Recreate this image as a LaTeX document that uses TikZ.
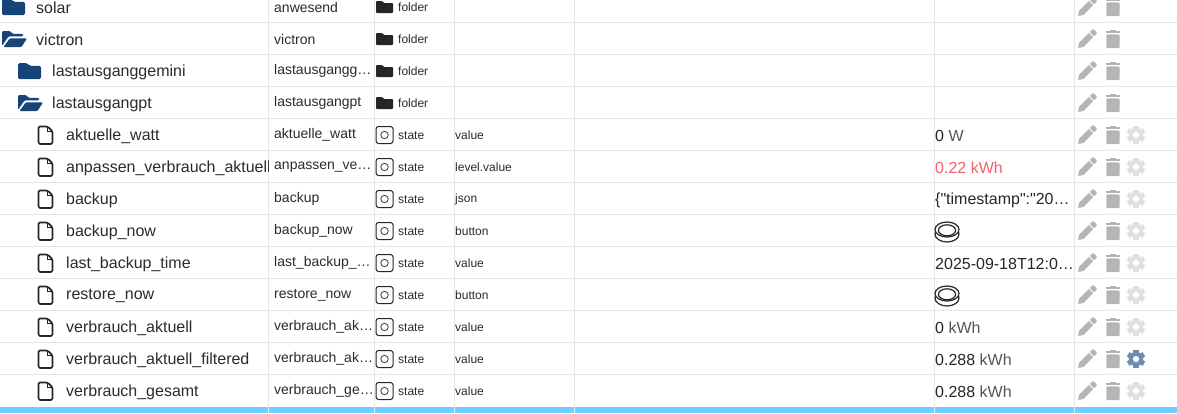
\documentclass[tikz,border=0pt]{standalone}
\usepackage{fontspec}
\setmainfont[Ligatures=TeXOff]{Liberation Sans}
\definecolor{rowline}{HTML}{E6E6E6}
\definecolor{namecol}{HTML}{2B2B2B}
\definecolor{foldercol}{HTML}{164477}
\definecolor{actioncol}{HTML}{B5B5B5}
\definecolor{gearoff}{HTML}{E0E0E0}
\definecolor{gearon}{HTML}{6C8EB4}
\definecolor{unitcol}{HTML}{555555}
\definecolor{redcol}{HTML}{F0616D}
\definecolor{barcol}{HTML}{6DCFFF}
\tikzset{
  cellname/.style={anchor=west,inner sep=0pt,text=namecol,font=\fontsize{16}{16}\selectfont},
  cellid/.style={anchor=west,inner sep=0pt,text=namecol,font=\fontsize{14}{14}\selectfont},
  cellsmall/.style={anchor=west,inner sep=0pt,text=namecol,font=\fontsize{12}{12}\selectfont},
  cellval/.style={anchor=west,inner sep=0pt,text=black!85,font=\fontsize{16}{16}\selectfont},
  foldershut/.pic={\fill[foldercol,rounded corners=1.5] (0,8) -- (0,-8) -- (9,-8) -- (11.5,-5.2) -- (23,-5.2) -- (23,8) -- cycle;},
  folderopen/.pic={\fill[foldercol,rounded corners=1] (0,7) -- (0,-8) -- (8,-8) -- (10.5,-5.2) -- (21,-5.2) -- (21,-2.6) -- (6.5,-2.6) -- cycle;
    \fill[foldercol,rounded corners=1] (1.5,8) -- (7.8,-.6) -- (25,-.6) -- (19.5,8) -- cycle;},
  filepage/.pic={\draw[black!85,line width=1.7,rounded corners=1.5,line join=round] (0,-8.6) -- (9,-8.6) -- (14,-3.6) -- (14,9) -- (0,9) -- cycle;
    \draw[black!85,line width=1.3] (9,-8.6) -- (9,-3.6) -- (14,-3.6);},
  statebox/.pic={\draw[black!85,line width=1,rounded corners=2.5] (-8.5,-8.5) rectangle (8.5,8.5);
    \draw[black!70,line width=.9] (0,0) circle (3.7);},
  pushbutton/.pic={\draw[black!85,line width=1.2,fill=white] (0,2.5) ellipse (12 and 8);
    \draw[black!85,line width=1.2,fill=white] (0,-2) ellipse (12 and 7.5);
    \draw[black!85,line width=1.2,fill=white] (0,-1.2) ellipse (8.6 and 5.5);},
  editpen/.pic={\begin{scope}[rotate=45]
      \fill[actioncol] (-12.5,0) -- (-8.5,-3) -- (5.6,-3) -- (5.6,3) -- (-8.5,3) -- cycle;
      \fill[actioncol,rounded corners=.8] (6.8,-3) rectangle (11.5,3);
    \end{scope}},
  trashcan/.pic={\fill[actioncol] (-7.3,-7.6) rectangle (7.3,-6);
    \fill[actioncol] (-3,-9) rectangle (3,-7.6);
    \fill[actioncol,rounded corners=1] (-6.6,-4.6) rectangle (6.6,9);},
  gearwheel/.pic={\foreach \ang in {0,60,...,300}
      {\fill[rotate=\ang] (-2.6,-9.2) rectangle (2.6,0);}
    \fill (0,0) circle (7.2);
    \fill[white] (0,0) circle (3.1);}
}
\begin{document}
\begin{tikzpicture}[x=1pt,y=-1pt]
\useasboundingbox (0,0) rectangle (1177,413);
\clip (0,0) rectangle (1177,413);
\fill[white] (0,0) rectangle (1177,413);
\foreach \liney in {22.5,54.5,...,375}
  \draw[rowline] (0,\liney) -- (1177,\liney);
\fill[barcol] (0,407) rectangle (1177,413);
\foreach \linex in {268,374,454,574,934,1074}
  \draw[rowline] (\linex,0) -- (\linex,413);
\foreach \rowy/\kind/\iconx/\textx/\rowname/\rowid in {
  7/foldershut/2/36/solar/anwesend,
  39/folderopen/2/36/victron/victron,
  71/foldershut/18/52/lastausganggemini/lastausgangg…,
  103/folderopen/18/52/lastausgangpt/lastausgangpt}
{
  \pic at (\iconx,\rowy) {\kind};
  \node[cellname] (name\rowy) at (\textx,\rowy+1) {\rowname};
  \node[cellid] (id\rowy) at (274,\rowy) {\rowid};
  \fill[black!85,rounded corners=.8] (376,\rowy+6) -- (376,\rowy-6) -- (382,\rowy-6) -- (384,\rowy-4) -- (393,\rowy-4) -- (393,\rowy+6) -- cycle;
  \node[cellsmall] (role\rowy) at (398,\rowy+.5) {folder};
  \pic[actioncol] at (1087,\rowy) {editpen};
  \pic at (1113,\rowy) {trashcan};
}
\foreach \rowy/\rowname/\rowid/\rowrole/\rowval/\gearcol in {
  135/aktuelle\_watt/aktuelle\_watt/value/{0 {\color{unitcol}W}}/gearoff,
  167/anpassen\_verbrauch\_aktuell/anpassen\_ve…/level.value/{\color{redcol}0.22 kWh}/gearoff,
  199/backup/backup/json/{\{"timestamp":"20…}/gearoff,
  231/backup\_now/backup\_now/button/{}/gearoff,
  263/last\_backup\_time/last\_backup\_…/value/{2025-09-18T12:0…}/gearoff,
  295/restore\_now/restore\_now/button/{}/gearoff,
  327/verbrauch\_aktuell/verbrauch\_ak…/value/{0 {\color{unitcol}kWh}}/gearoff,
  359/verbrauch\_aktuell\_filtered/verbrauch\_ak…/value/{0.288 {\color{unitcol}kWh}}/gearon,
  391/verbrauch\_gesamt/verbrauch\_ge…/value/{0.288 {\color{unitcol}kWh}}/gearoff}
{
  \pic at (38.5,\rowy) {filepage};
  \begin{scope}
    \clip (60,\rowy-16) rectangle (268,\rowy+16);
    \node[cellname] (name\rowy) at (66,\rowy+1) {\rowname};
  \end{scope}
  \node[cellid] (id\rowy) at (274,\rowy) {\rowid};
  \pic at (384.5,\rowy) {statebox};
  \node[cellsmall] (role\rowy) at (398,\rowy+.5) {state};
  \node[cellsmall] (type\rowy) at (455,\rowy+.5) {\rowrole};
  \node[cellval] (val\rowy) at (935,\rowy+1) {\rowval};
  \pic[actioncol] at (1087,\rowy) {editpen};
  \pic at (1113,\rowy) {trashcan};
  \pic[\gearcol] at (1136,\rowy) {gearwheel};
}
\pic at (947,231.5) {pushbutton};
\pic at (947,295.5) {pushbutton};
\end{tikzpicture}
\end{document}
